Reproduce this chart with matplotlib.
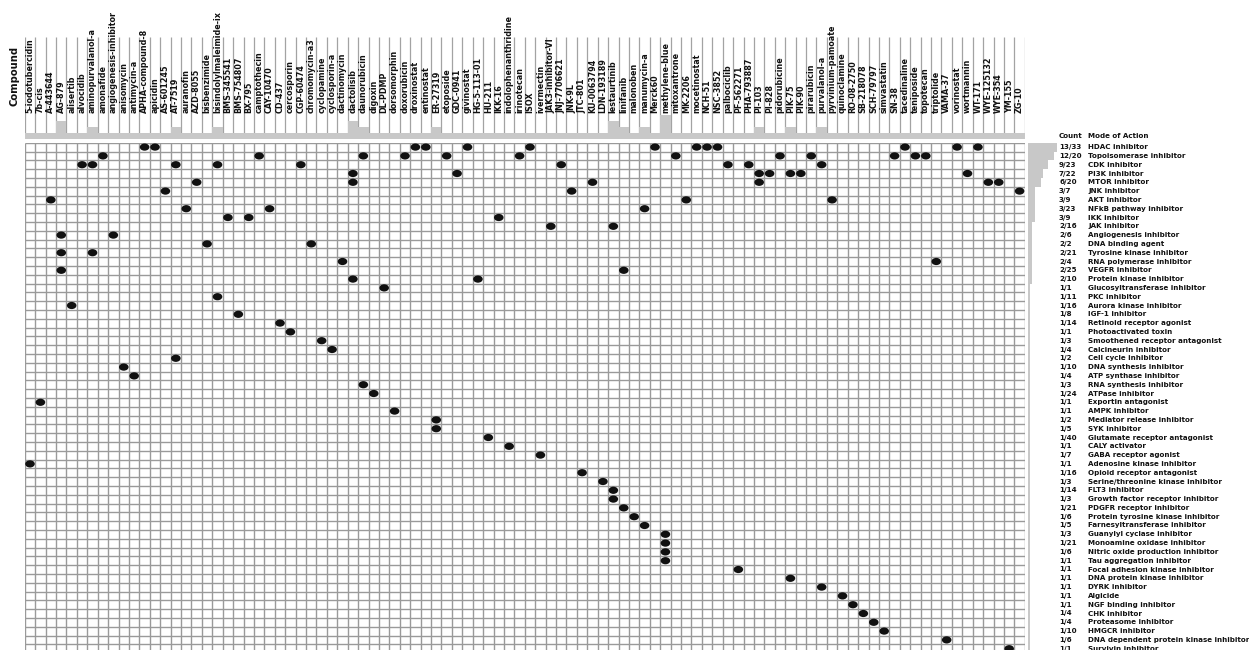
"""Compound vs. mode-of-action membership grid."""

import numpy as np
import matplotlib

matplotlib.use("Agg")
import matplotlib.pyplot as plt
from matplotlib.patches import Ellipse
from matplotlib.transforms import blended_transform_factory

plt.rcParams["font.family"] = ["DejaVu Sans"]

compounds = [
    "5-iodotubercidin", "7b-cis", "A-443644", "AG-879", "alisertib", "alvocidib",
    "aminopurvalanol-a", "amonafide", "angiogenesis-inhibitor", "anisomycin",
    "antimycin-a", "APHA-compound-8", "apicidin", "AS-601245", "AT-7519",
    "auranofin", "AZD-8055", "bisbenzimide", "bisindolylmaleimide-ix",
    "BMS-345541", "BMS-754807", "BX-795", "camptothecin", "CAY-10470", "CD-437",
    "cercosporin", "CGP-60474", "chromomycin-a3", "cyclopamine", "cyclosporin-a",
    "dactinomycin", "dactolisib", "daunorubicin", "digoxin", "DL-PDMP",
    "dorsomorphin", "doxorubicin", "droxinostat", "entinostat", "ER-27319",
    "etoposide", "GDC-0941", "givinostat", "HG-5-113-01", "HU-211", "IKK-16",
    "indolophenanthridine", "irinotecan", "ISOX", "ivermectin",
    "JAK3-inhibitor-VI", "JNJ-7706621", "JNK-9L", "JTC-801", "KU-0063794",
    "LDN-193189", "lestaurtinib", "linifanib", "malonoben", "manumycin-a",
    "Merck60", "methylene-blue", "mitoxantrone", "MK-2206", "mocetinostat",
    "NCH-51", "NSC-3852", "palbociclib", "PF-562271", "PHA-793887", "PI-103",
    "PI-828", "pidorubicine", "PIK-75", "PIK-90", "pirarubicin", "purvalanol-a",
    "pyrvinium-pamoate", "quinoclamine", "RO-08-2750", "SB-218078", "SCH-79797",
    "simvastatin", "SN-38", "tacedinaline", "teniposide", "topotecan",
    "triptolide", "VAMA-37", "vorinostat", "wortmannin", "WT-171", "WYE-125132",
    "WYE-354", "YM-155", "ZG-10",
]

moa_labels = [
    "HDAC inhibitor", "Topoisomerase inhibitor", "CDK inhibitor", "PI3K inhibitor",
    "MTOR inhibitor", "JNK inhibitor", "AKT inhibitor", "NFkB pathway inhibitor",
    "IKK inhibitor", "JAK inhibitor", "Angiogenesis inhibitor", "DNA binding agent",
    "Tyrosine kinase inhibitor", "RNA polymerase inhibitor", "VEGFR inhibitor",
    "Protein kinase inhibitor", "Glucosyltransferase inhibitor", "PKC inhibitor",
    "Aurora kinase inhibitor", "IGF-1 inhibitor", "Retinoid receptor agonist",
    "Photoactivated toxin", "Smoothened receptor antagonist",
    "Calcineurin inhibitor", "Cell cycle inhibitor", "DNA synthesis inhibitor",
    "ATP synthase inhibitor", "RNA synthesis inhibitor", "ATPase inhibitor",
    "Exportin antagonist", "AMPK inhibitor", "Mediator release inhibitor",
    "SYK inhibitor", "Glutamate receptor antagonist", "CALY activator",
    "GABA receptor agonist", "Adenosine kinase inhibitor",
    "Opioid receptor antagonist", "Serine/threonine kinase inhibitor",
    "FLT3 inhibitor", "Growth factor receptor inhibitor",
    "PDGFR receptor inhibitor", "Protein tyrosine kinase inhibitor",
    "Farnesyltransferase inhibitor", "Guanylyl cyclase inhibitor",
    "Monoamine oxidase inhibitor", "Nitric oxide production inhibitor",
    "Tau aggregation inhibitor", "Focal adhesion kinase inhibitor",
    "DNA protein kinase inhibitor", "DYRK inhibitor", "Algicide",
    "NGF binding inhibitor", "CHK inhibitor", "Proteasome inhibitor",
    "HMGCR inhibitor", "DNA dependent protein kinase inhibitor",
    "Survivin inhibitor",
]

# total number of library compounds annotated with each mode of action
moa_totals = [
    33, 20, 23, 22, 20, 7, 9, 23, 9, 16, 6, 2, 21, 4, 25, 10, 1, 11, 16, 8, 14, 1,
    3, 4, 2, 10, 4, 3, 24, 1, 1, 2, 5, 40, 1, 7, 1, 16, 3, 14, 3, 21, 6, 5, 3, 21,
    6, 1, 1, 1, 1, 1, 1, 4, 4, 10, 6, 1,
]

# hit compounds in each mode of action row
moa_members = [
    ["APHA-compound-8", "apicidin", "droxinostat", "entinostat", "givinostat",
     "ISOX", "Merck60", "mocetinostat", "NCH-51", "NSC-3852", "tacedinaline",
     "vorinostat", "WT-171"],
    ["amonafide", "camptothecin", "daunorubicin", "doxorubicin", "etoposide",
     "irinotecan", "mitoxantrone", "pidorubicine", "pirarubicin", "SN-38",
     "teniposide", "topotecan"],
    ["alvocidib", "aminopurvalanol-a", "AT-7519", "bisindolylmaleimide-ix",
     "CGP-60474", "JNJ-7706621", "palbociclib", "PHA-793887", "purvalanol-a"],
    ["dactolisib", "GDC-0941", "PI-103", "PI-828", "PIK-75", "PIK-90",
     "wortmannin"],
    ["AZD-8055", "dactolisib", "KU-0063794", "PI-103", "WYE-125132", "WYE-354"],
    ["AS-601245", "JNK-9L", "ZG-10"],
    ["A-443644", "MK-2206", "pyrvinium-pamoate"],
    ["auranofin", "CAY-10470", "manumycin-a"],
    ["BMS-345541", "BX-795", "IKK-16"],
    ["JAK3-inhibitor-VI", "lestaurtinib"],
    ["AG-879", "angiogenesis-inhibitor"],
    ["bisbenzimide", "chromomycin-a3"],
    ["AG-879", "aminopurvalanol-a"],
    ["dactinomycin", "triptolide"],
    ["AG-879", "linifanib"],
    ["dactolisib", "HG-5-113-01"],
    ["DL-PDMP"],
    ["bisindolylmaleimide-ix"],
    ["alisertib"],
    ["BMS-754807"],
    ["CD-437"],
    ["cercosporin"],
    ["cyclopamine"],
    ["cyclosporin-a"],
    ["AT-7519"],
    ["anisomycin"],
    ["antimycin-a"],
    ["daunorubicin"],
    ["digoxin"],
    ["7b-cis"],
    ["dorsomorphin"],
    ["ER-27319"],
    ["ER-27319"],
    ["HU-211"],
    ["indolophenanthridine"],
    ["ivermectin"],
    ["5-iodotubercidin"],
    ["JTC-801"],
    ["LDN-193189"],
    ["lestaurtinib"],
    ["lestaurtinib"],
    ["linifanib"],
    ["malonoben"],
    ["manumycin-a"],
    ["methylene-blue"],
    ["methylene-blue"],
    ["methylene-blue"],
    ["methylene-blue"],
    ["PF-562271"],
    ["PIK-75"],
    ["purvalanol-a"],
    ["quinoclamine"],
    ["RO-08-2750"],
    ["SB-218078"],
    ["SCH-79797"],
    ["simvastatin"],
    ["VAMA-37"],
    ["YM-155"],
]

GRID = "#9a9a9a"
BAR = "#c8c8c8"
INK = "#111111"

W, H = 1249, 650
n_cols = len(compounds)
n_rows = len(moa_labels)

grid_left, grid_right = 24.8, 1024.8
grid_top, row_h = 142.7, 8.8
grid_bottom = grid_top + row_h * n_rows
label_top, bar_base, bar_unit = 37.0, 138.7, 6.0
side_left, side_unit = 1028.0, 2.2


def px_rect(x0, y0, x1, y1):
    """Axes rectangle from pixel edges measured from the top-left corner."""
    return [x0 / W, 1 - y1 / H, (x1 - x0) / W, (y1 - y0) / H]


col_index = {name: i for i, name in enumerate(compounds)}
hits_per_row = [len(m) for m in moa_members]
hits_per_compound = np.zeros(n_cols, dtype=int)
for members in moa_members:
    for name in members:
        hits_per_compound[col_index[name]] += 1

fig = plt.figure(figsize=(W / 100, H / 100), dpi=100)

# membership grid
ax = fig.add_axes(px_rect(grid_left, grid_top, grid_right, grid_bottom))
ax.set_xlim(0, n_cols)
ax.set_ylim(n_rows, 0)
ax.axis("off")
ax.vlines(np.arange(n_cols + 1), 0, n_rows, color=GRID, lw=1.0, zorder=1)
ax.hlines(np.arange(n_rows + 1), 0, n_cols, color=GRID, lw=1.0, zorder=1)
for row, members in enumerate(moa_members):
    for name in members:
        ax.add_patch(Ellipse((col_index[name] + 0.5, row + 0.5), 0.92, 0.82,
                             facecolor=INK, edgecolor="none", zorder=3))

# compound header: separators, hit-count bars, names
ax_top = fig.add_axes(px_rect(grid_left, label_top, grid_right, bar_base))
ax_top.set_xlim(0, n_cols)
ax_top.set_ylim(0, (bar_base - label_top) / bar_unit)
ax_top.axis("off")
ax_top.vlines(np.arange(n_cols + 1), 0, ax_top.get_ylim()[1],
              color="#a3a3a3", lw=0.9, zorder=1)
ax_top.bar(np.arange(n_cols) + 0.5, hits_per_compound, width=1.0,
           color=BAR, edgecolor="none", zorder=2)
name_y = (bar_base - 113) / bar_unit
for i, name in enumerate(compounds):
    ax_top.text(i + 0.5, name_y, name, rotation=90, rotation_mode="anchor",
                ha="left", va="center", fontsize=5.8, fontweight="bold",
                color=INK, clip_on=False, zorder=3)

fig.text(15 / W, 1 - 76 / H, "Compound", rotation=90, ha="center",
         va="center", fontsize=7.2, fontweight="bold", color=INK)

# mode-of-action side panel
ax_side = fig.add_axes(px_rect(side_left, grid_top, W, grid_bottom))
ax_side.set_ylim(n_rows, 0)
ax_side.set_xlim(0, (W - side_left) / side_unit)
ax_side.axis("off")
ax_side.barh(np.arange(n_rows) + 0.5, hits_per_row, height=1.0,
             color=BAR, edgecolor="none", zorder=1)

tr = blended_transform_factory(ax_side.transAxes, ax_side.transData)
count_x = (1059 - side_left) / (W - side_left)
name_x = (1088 - side_left) / (W - side_left)
for row, (label, hit, total) in enumerate(zip(moa_labels, hits_per_row, moa_totals)):
    ax_side.text(count_x, row + 0.5, f"{hit}/{total}", transform=tr,
                 ha="left", va="center", fontsize=5.1, fontweight="bold",
                 color=INK, zorder=2)
    ax_side.text(name_x, row + 0.5, label, transform=tr, ha="left",
                 va="center", fontsize=5.1, fontweight="bold", color=INK,
                 zorder=2)

ax_side.text(count_x, -0.75, "Count", transform=tr, ha="left", va="center",
             fontsize=5.1, fontweight="bold", color=INK, clip_on=False)
ax_side.text(name_x, -0.75, "Mode of Action", transform=tr, ha="left",
             va="center", fontsize=5.1, fontweight="bold", color=INK,
             clip_on=False)

fig.savefig("out.png", dpi=100)
plt.close(fig)
